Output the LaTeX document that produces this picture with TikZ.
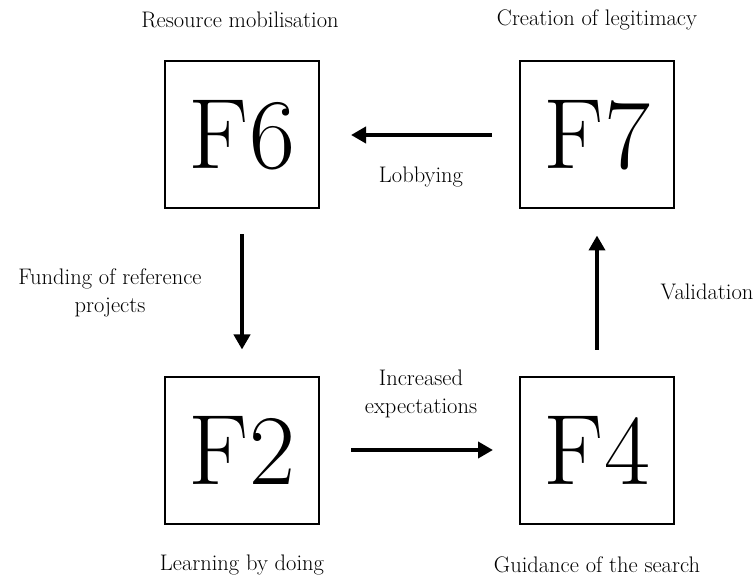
\documentclass[tikz,border=0pt]{standalone}
\usetikzlibrary{arrows.meta}
\begin{document}
\begin{tikzpicture}[x=1pt,y=-1pt,
  fbox/.style={draw,line width=2pt,minimum width=154pt,minimum height=147pt,inner sep=0pt,font=\fontsize{100}{100}\selectfont},
  lbl/.style={font=\fontsize{22.5}{27.5}\selectfont,align=center,inner sep=0pt},
  flow/.style={line width=4.5pt,-{Triangle[length=15pt,width=16pt]}}]
\useasboundingbox (0,0) rectangle (755,577);
\node[fbox] (F6) at (242,135) {F6};
\node[fbox] (F7) at (597,135) {F7};
\node[fbox] (F2) at (242,450) {F2};
\node[fbox] (F4) at (597,450) {F4};
\node[lbl] (t6) at (240,20) {Resource mobilisation};
\node[lbl] (t7) at (597,20) {Creation of legitimacy};
\node[lbl] (t2) at (242,565) {Learning by doing};
\node[lbl] (t4) at (597,565) {Guidance of the search};
\draw[flow,shorten <=27pt,shorten >=31pt] (F7.west) -- (F6.east);
\draw[flow,shorten <=25pt,shorten >=26pt] (F6.south) -- (F2.north);
\draw[flow,shorten <=31pt,shorten >=26pt] (F2.east) -- (F4.west);
\draw[flow,shorten <=26pt,shorten >=26pt] (F4.north) -- (F7.south);
\node[lbl] (l1) at (421,177) {Lobbying};
\node[lbl] (l2) at (110,293) {Funding of reference\\projects};
\node[lbl] (l3) at (421,394) {Increased\\expectations};
\node[lbl] (l4) at (707,292) {Validation};
\end{tikzpicture}
\end{document}
